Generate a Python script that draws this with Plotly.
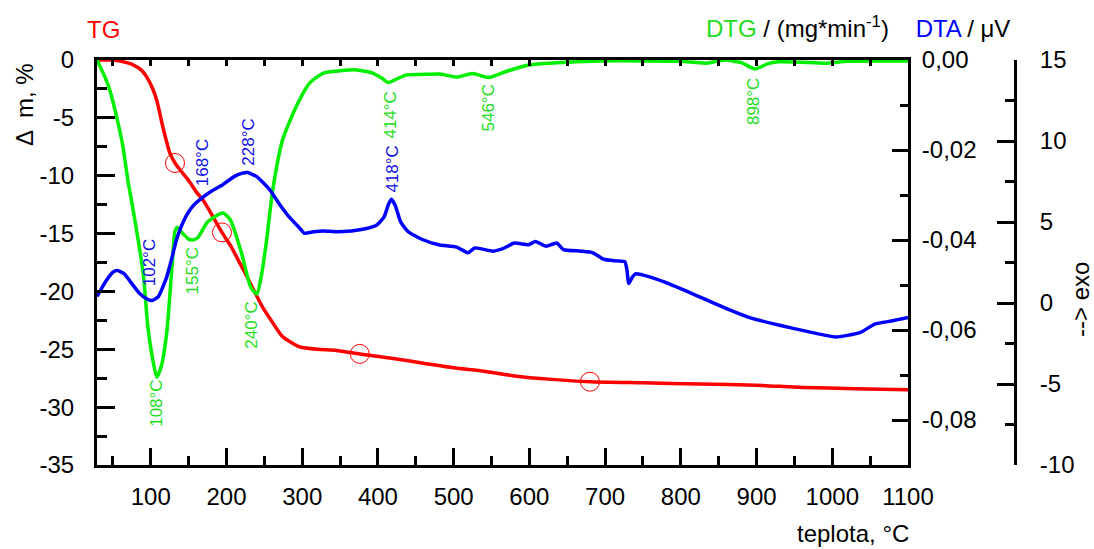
import plotly.graph_objects as go

# ---- thermal analysis data ----
tg_temp = [29, 40, 50, 60, 76, 88, 95, 102, 108, 116, 125, 132, 140, 151, 160, 169, 180, 194,
           205, 218, 230, 240, 248, 257, 266, 274, 285, 297, 320, 345, 376, 420, 460, 500,
           540, 580, 630, 680, 750, 825, 900, 960, 1030, 1100]
tg_mass = [0, 0, 0, -0.1, -0.4, -0.9, -1.5, -2.4, -3.5, -5.8, -8.0, -8.9, -9.6, -10.5, -11.4,
           -12.1, -13.3, -14.9, -16.0, -17.6, -19.1, -20.4, -21.4, -22.3, -23.2, -23.9, -24.4,
           -24.8, -25.0, -25.1, -25.4, -25.8, -26.2, -26.6, -26.9, -27.3, -27.6, -27.8, -27.9,
           -28.0, -28.1, -28.3, -28.4, -28.5]

# marked points on the TG curve
tg_mark_temp = [132, 194, 376, 680]
tg_mark_mass = [-8.9, -14.9, -25.4, -27.8]

dtg_temp = [29, 40, 46, 55, 63, 70, 76, 90, 96, 102, 108, 114, 121, 128, 132, 135, 142, 150,
            155, 162, 175, 195, 205, 220, 232, 240, 246, 253, 261, 274, 292, 310, 328, 350,
            372, 393, 405, 414, 425, 438, 457, 482, 504, 525, 546, 570, 599, 650, 693, 760,
            800, 834, 858, 880, 898, 915, 929, 960, 990, 1020, 1050, 1100]
dtg_rate = [0, -0.0040, -0.0067, -0.0127, -0.0190, -0.0270, -0.0326, -0.0474, -0.0590, -0.0660,
            -0.0705, -0.0680, -0.0607, -0.0460, -0.0380, -0.0372, -0.0385, -0.0398, -0.0400,
            -0.0395, -0.0360, -0.0340, -0.0355, -0.0430, -0.0505, -0.0520, -0.0480, -0.0400,
            -0.0290, -0.0178, -0.0104, -0.0051, -0.0029, -0.0024, -0.0022, -0.0029, -0.0040,
            -0.0050, -0.0042, -0.0033, -0.0032, -0.0031, -0.0038, -0.0030, -0.0039, -0.0025,
            -0.0011, -0.0005, -0.0002, -0.0002, -0.0003, -0.0007, 0, -0.0006, -0.0020, -0.0008,
            -0.0004, -0.0005, -0.0007, -0.0003, -0.0002, -0.0002]

dta_temp = [29, 40, 50, 56, 65, 75, 85, 95, 102, 110, 121, 128, 134, 140, 147, 155, 168, 180,
            195, 210, 220, 228, 240, 257, 270, 283, 295, 303, 315, 328, 345, 365, 385, 398,
            408, 414, 418, 423, 430, 440, 457, 480, 504, 519, 528, 552, 565, 580, 599, 608,
            622, 636, 645, 668, 684, 698, 715, 726, 729, 731, 736, 740, 760, 778, 806, 834,
            858, 891, 929, 971, 1004, 1020, 1038, 1056, 1080, 1100]
dta_signal = [0.4, 1.3, 1.9, 2.0, 1.8, 1.2, 0.6, 0.25, 0.15, 0.4, 1.6, 2.8, 3.9, 4.7, 5.4, 5.95,
              6.5, 6.9, 7.3, 7.8, 8.0, 8.05, 7.8, 7.0, 6.1, 5.3, 4.7, 4.3, 4.4, 4.45, 4.4, 4.45,
              4.6, 4.8, 5.3, 6.1, 6.4, 6.0, 5.0, 4.4, 3.95, 3.6, 3.45, 3.1, 3.4, 3.2, 3.35, 3.7,
              3.6, 3.8, 3.5, 3.7, 3.3, 3.2, 3.1, 2.7, 2.6, 2.55, 2.0, 1.2, 1.6, 1.8, 1.6, 1.3,
              0.76, 0.19, -0.3, -0.9, -1.36, -1.8, -2.1, -2.0, -1.8, -1.3, -1.1, -0.9]

# peak temperatures annotated on the curves
dtg_peaks = [108, 155, 240, 414, 546, 898]
dta_peaks = [102, 168, 228, 418]

# axis ticks
x_ticks = [100, 200, 300, 400, 500, 600, 700, 800, 900, 1000, 1100]
tg_ticks = [0, -5, -10, -15, -20, -25, -30, -35]
tg_ticktext = ["0", "-5", "-10", "-15", "-20", "-25", "-30", "-35"]
dtg_ticks = [0, -0.02, -0.04, -0.06, -0.08]
dtg_ticktext = ["0,00", "-0,02", "-0,04", "-0,06", "-0,08"]
dta_ticks = [15, 10, 5, 0, -5, -10]
dta_ticktext = ["15", "10", "5", "0", "-5", "-10"]

# ---- layout helpers (pixel -> paper) ----
W, H = 1094, 549
FONT = "Liberation Sans, Arial, sans-serif"
FS = 24
FS_PEAK = 17


def fx(p):
    return p / W


def fy(p):
    return 1 - p / H


RED = "#ff0000"
GREEN = "#00ee00"
BLUE = "#0000ff"
GREEN_TXT = "#22dd22"
BLUE_TXT = "#1010e0"

fig = go.Figure()

fig.add_trace(go.Scatter(x=tg_temp, y=tg_mass, mode="lines", xaxis="x", yaxis="y",
                         line=dict(color=RED, width=3.5, shape="spline", smoothing=0.6),
                         showlegend=False, hoverinfo="skip"))
fig.add_trace(go.Scatter(x=tg_mark_temp, y=tg_mark_mass, mode="markers", xaxis="x2", yaxis="y",
                         marker=dict(symbol="circle-open", size=19, color=RED,
                                     line=dict(color=RED, width=1)),
                         showlegend=False, hoverinfo="skip"))
fig.add_trace(go.Scatter(x=dta_temp, y=dta_signal, mode="lines", xaxis="x", yaxis="y3",
                         line=dict(color=BLUE, width=3.5, shape="spline", smoothing=0.5),
                         showlegend=False, hoverinfo="skip"))
fig.add_trace(go.Scatter(x=dtg_temp, y=dtg_rate, mode="lines", xaxis="x", yaxis="y2",
                         line=dict(color=GREEN, width=3.5, shape="spline", smoothing=0.6),
                         showlegend=False, hoverinfo="skip"))

x_dom = [fx(97), fx(908)]
y_dom = [fy(465), fy(60)]
x_range = [29, 1100]
axis_common = dict(showline=True, linecolor="black", linewidth=3, showgrid=False,
                   zeroline=False, tickcolor="black", tickwidth=2.5, automargin=False,
                   tickfont=dict(family=FONT, size=FS, color="black"))

fig.update_layout(
    template="none",
    width=W, height=H,
    margin=dict(l=0, r=0, t=0, b=0),
    paper_bgcolor="white", plot_bgcolor="white",
    font=dict(family=FONT, size=FS, color="black"),
    xaxis=dict(domain=x_dom, range=x_range, anchor="y", side="bottom",
               tickmode="array", tickvals=x_ticks, ticks="inside", ticklen=17,
               ticklabelstandoff=8,
               minor=dict(tickmode="linear", tick0=0, dtick=50, ticks="inside",
                          ticklen=9, tickwidth=2.5, tickcolor="black"),
               **axis_common),
    xaxis2=dict(domain=x_dom, range=x_range, anchor="y", side="top", overlaying="x",
                tickmode="linear", tick0=0, dtick=50, ticks="inside", ticklen=6,
                showticklabels=False, **axis_common),
    yaxis=dict(domain=y_dom, range=[-35, 0], anchor="x", side="left",
               tickmode="array", tickvals=tg_ticks, ticktext=tg_ticktext,
               ticks="inside", ticklen=18, ticklabelstandoff=15,
               minor=dict(tickmode="linear", tick0=0, dtick=2.5, ticks="inside",
                          ticklen=10, tickwidth=2.5, tickcolor="black"),
               **axis_common),
    yaxis2=dict(domain=y_dom, range=[-0.09, 0], anchor="x", side="right", overlaying="y",
                tickmode="array", tickvals=dtg_ticks, ticktext=dtg_ticktext,
                ticks="inside", ticklen=16, ticklabelstandoff=6,
                minor=dict(tickmode="linear", tick0=0, dtick=0.01, ticks="inside",
                           ticklen=8, tickwidth=2.5, tickcolor="black"),
                **axis_common),
    yaxis3=dict(domain=y_dom, range=[-10, 15], anchor="free", position=fx(1015),
                side="right", overlaying="y",
                tickmode="array", tickvals=dta_ticks, ticktext=dta_ticktext,
                ticks="inside", ticklen=17, ticklabelstandoff=18,
                minor=dict(tickmode="linear", tick0=0, dtick=2.5, ticks="inside",
                           ticklen=9, tickwidth=2.5, tickcolor="black"),
                **axis_common),
)

ann = []
centre = dict(xref="paper", yref="paper", showarrow=False, xanchor="center", yanchor="middle")
# axis titles
ann.append(dict(text="TG", x=fx(103), y=fy(30), font=dict(color=RED, size=FS), **centre))
ann.append(dict(text="\u0394  m, %", x=fx(24), y=fy(105), textangle=-90,
                font=dict(size=FS), **centre))
ann.append(dict(text="--> exo", x=fx(1080), y=fy(300), textangle=-90,
                font=dict(size=FS), **centre))
ann.append(dict(text="teplota, \u00b0C", x=fx(911), y=fy(533), xref="paper", yref="paper",
                xanchor="right", yanchor="middle", showarrow=False, font=dict(size=FS)))
ann.append(dict(text=(f"<span style='color:{GREEN_TXT}'>DTG</span> / (mg*min<sup>-1</sup>)"
                      f"&nbsp;&nbsp;&nbsp; <span style='color:{BLUE}'>DTA</span> / \u03bcV"),
                x=fx(1012), y=fy(27), xref="paper", yref="paper", xanchor="right",
                yanchor="middle", showarrow=False, font=dict(size=FS)))

# peak labels: vertical centre in px and a small horizontal shift
label_y = {108: 403, 155: 271, 240: 325, 414: 115, 546: 108, 898: 102,
           102: 263, 168: 163, 228: 142, 418: 169}
label_dx = {108: -1, 155: 0, 240: -6, 414: 2, 546: 0, 898: -1,
            102: -2, 168: 0, 228: 0, 418: 0}
for peaks, col in ((dtg_peaks, GREEN_TXT), (dta_peaks, BLUE_TXT)):
    for t in peaks:
        ann.append(dict(text=f"{t}\u00b0C", x=t, y=fy(label_y[t]), xref="x", yref="paper",
                        xanchor="center", yanchor="middle", xshift=label_dx[t],
                        textangle=-90, showarrow=False,
                        font=dict(size=FS_PEAK, color=col)))

fig.update_layout(annotations=ann)
fig.write_html("out.html")
